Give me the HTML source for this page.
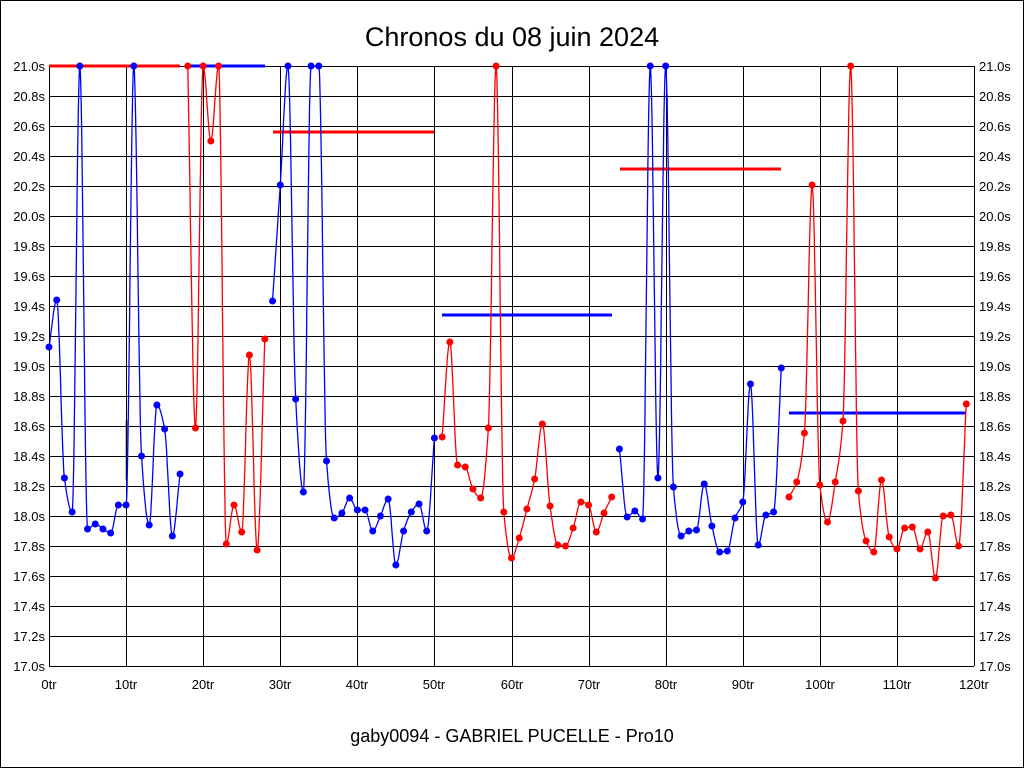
<!DOCTYPE html>
<html><head><meta charset="utf-8"><style>
html,body{margin:0;padding:0;background:#fff}
svg{display:block}
text{font-family:"Liberation Sans",sans-serif;fill:#000}
</style></head><body>
<svg id="s" width="1024" height="768" xmlns="http://www.w3.org/2000/svg">
<rect x="0.5" y="0.5" width="1023" height="767" fill="#fff" stroke="#000"/>
<text x="512" y="46" font-size="27" text-anchor="middle">Chronos du 08 juin 2024</text>
<text x="512" y="742" font-size="18" text-anchor="middle">gaby0094 - GABRIEL PUCELLE - Pro10</text>
<g id="grid" stroke="#000" stroke-width="1"></g>
<g font-size="13" text-anchor="end">
<text x="45" y="71">21.0s</text><text x="45" y="101">20.8s</text><text x="45" y="131">20.6s</text><text x="45" y="161">20.4s</text><text x="45" y="191">20.2s</text><text x="45" y="221">20.0s</text><text x="45" y="251">19.8s</text><text x="45" y="281">19.6s</text><text x="45" y="311">19.4s</text><text x="45" y="341">19.2s</text><text x="45" y="371">19.0s</text><text x="45" y="401">18.8s</text><text x="45" y="431">18.6s</text><text x="45" y="461">18.4s</text><text x="45" y="491">18.2s</text><text x="45" y="521">18.0s</text><text x="45" y="551">17.8s</text><text x="45" y="581">17.6s</text><text x="45" y="611">17.4s</text><text x="45" y="641">17.2s</text><text x="45" y="671">17.0s</text>
</g>
<g font-size="13" text-anchor="start">
<text x="979" y="71">21.0s</text><text x="979" y="101">20.8s</text><text x="979" y="131">20.6s</text><text x="979" y="161">20.4s</text><text x="979" y="191">20.2s</text><text x="979" y="221">20.0s</text><text x="979" y="251">19.8s</text><text x="979" y="281">19.6s</text><text x="979" y="311">19.4s</text><text x="979" y="341">19.2s</text><text x="979" y="371">19.0s</text><text x="979" y="401">18.8s</text><text x="979" y="431">18.6s</text><text x="979" y="461">18.4s</text><text x="979" y="491">18.2s</text><text x="979" y="521">18.0s</text><text x="979" y="551">17.8s</text><text x="979" y="581">17.6s</text><text x="979" y="611">17.4s</text><text x="979" y="641">17.2s</text><text x="979" y="671">17.0s</text>
</g>
<g font-size="13" text-anchor="middle">
<text x="49" y="689">0tr</text><text x="126" y="689">10tr</text><text x="203" y="689">20tr</text><text x="280" y="689">30tr</text><text x="357" y="689">40tr</text><text x="434" y="689">50tr</text><text x="512" y="689">60tr</text><text x="589" y="689">70tr</text><text x="666" y="689">80tr</text><text x="743" y="689">90tr</text><text x="820" y="689">100tr</text><text x="897" y="689">110tr</text><text x="974" y="689">120tr</text>
</g>
<g stroke-width="3">
<line x1="49" y1="66" x2="180" y2="66" stroke="#f00"/>
<line x1="187" y1="66" x2="265" y2="66" stroke="#00f"/>
<line x1="273" y1="132" x2="434" y2="132" stroke="#f00"/>
<line x1="442" y1="315" x2="612" y2="315" stroke="#00f"/>
<line x1="620" y1="169" x2="781" y2="169" stroke="#f00"/>
<line x1="789" y1="413" x2="966" y2="413" stroke="#00f"/>
</g>
<g stroke="#000" stroke-width="1.5">
<line x1="126.5" y1="420" x2="126.5" y2="480"/>
<line x1="667" y1="95" x2="667" y2="130"/>
</g>
<g id="data"></g>
</svg>
<script>
var ns="http://www.w3.org/2000/svg";
var g=document.getElementById("grid");
function ln(p,x1,y1,x2,y2){var l=document.createElementNS(ns,"line");l.setAttribute("x1",x1);l.setAttribute("y1",y1);l.setAttribute("x2",x2);l.setAttribute("y2",y2);p.appendChild(l);return l;}
for(var k=0;k<=20;k++){var y=66+30*k+0.5;ln(g,49,y,974,y);}
for(var k=0;k<=12;k++){var x=Math.round(49+925*k/12)+0.5;ln(g,x,66,x,666);}
var Y=[347,300,478,512,66,529,524,529,533,505,505,66,456,525,405,429,536,474,
66,428,66,141,66,544,505,532,355,550,339,
301,185,66,399,492,66,66,461,518,513,498,510,510,531,516,499,565,531,512,504,531,438,
437,342,465,467,489,498,428,66,512,558,538,509,479,424,506,545,546,528,502,505,532,513,497,
449,517,511,519,66,478,66,487,536,531,530,484,526,552,551,518,502,384,545,515,512,368,
497,482,433,185,485,522,482,421,66,491,541,552,480,537,549,528,527,549,532,578,516,515,546,404];
var segs=[[0,17,"#00f"],[18,28,"#f00"],[29,50,"#00f"],[51,73,"#f00"],[74,95,"#00f"],[96,119,"#f00"]];
var d=document.getElementById("data");
function X(i){return 49+925*i/120;}
segs.forEach(function(s){
 var a=s[0],b=s[1],n=b-a+1,dl=[],m=[];
 for(var i=a;i<b;i++)dl.push(Y[i+1]-Y[i]);
 for(var k=0;k<n;k++){
  if(k==0)m.push(dl[0]);else if(k==n-1)m.push(dl[n-2]);
  else{var d0=dl[k-1],d1=dl[k];m.push(d0*d1<=0?0:2/(1/d0+1/d1));}
 }
 var pts=[];
 for(var k=0;k<n-1;k++){
  var y0=Y[a+k],y1=Y[a+k+1],m0=m[k],m1=m[k+1];
  for(var t=0;t<1;t+=0.05){
   var t2=t*t,t3=t2*t;
   var y=(2*t3-3*t2+1)*y0+(t3-2*t2+t)*m0+(-2*t3+3*t2)*y1+(t3-t2)*m1;
   pts.push((X(a+k)+t*(X(a+k+1)-X(a+k))).toFixed(1)+","+y.toFixed(1));
  }
 }
 pts.push(X(b).toFixed(1)+","+Y[b]);
 var p=document.createElementNS(ns,"polyline");p.setAttribute("points",pts.join(" "));
 p.setAttribute("fill","none");p.setAttribute("stroke",s[2]);p.setAttribute("stroke-width","1.3");d.appendChild(p);
 for(var i=a;i<=b;i++){var c=document.createElementNS(ns,"circle");c.setAttribute("cx",X(i));c.setAttribute("cy",Y[i]);c.setAttribute("r","3.5");c.setAttribute("fill",s[2]);d.appendChild(c);}
});
</script>
</body></html>
